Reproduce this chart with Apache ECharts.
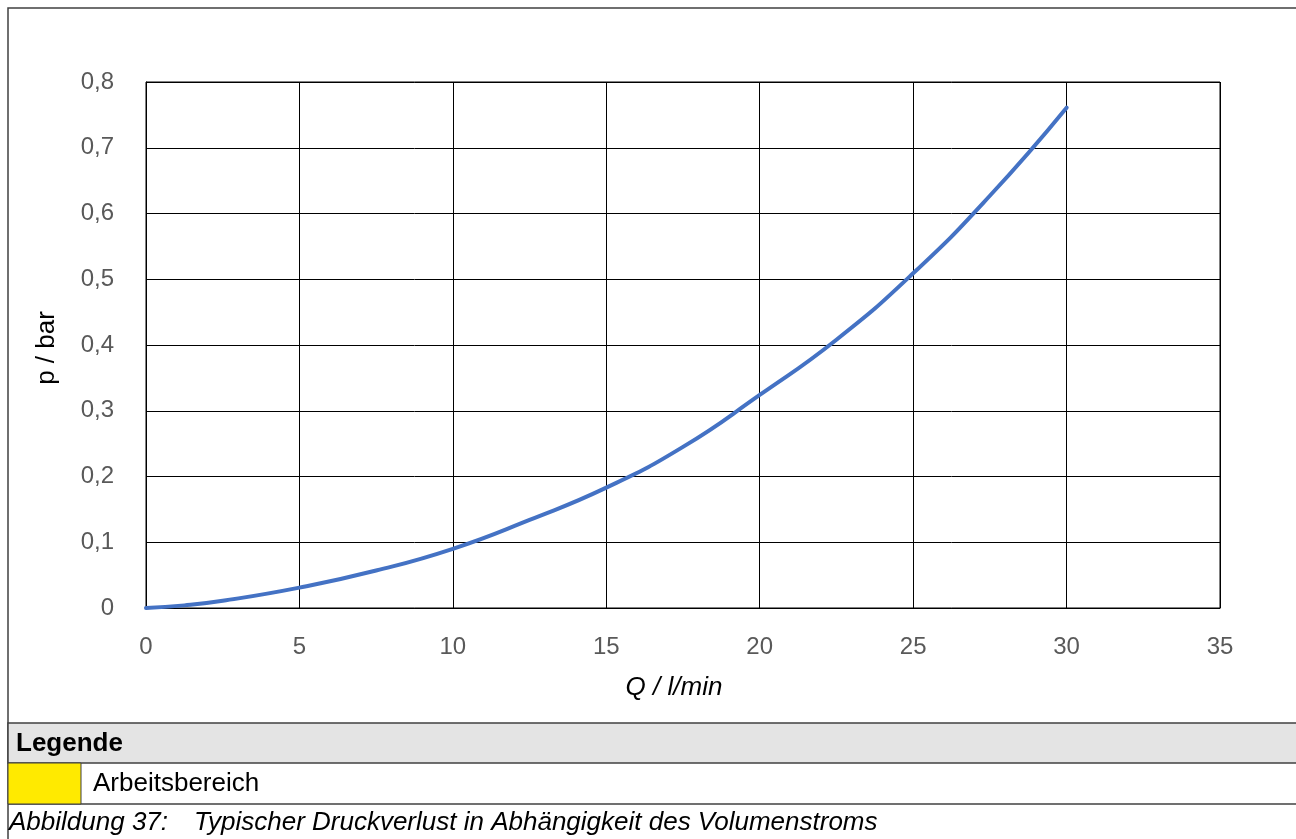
<!DOCTYPE html>
<html>
<head>
<meta charset="utf-8">
<script src="https://cdn.jsdelivr.net/npm/echarts@6/dist/echarts.min.js"></script>
<style>
html,body{margin:0;padding:0;background:#fff;}
#chart{width:1296px;height:839px;}
</style>
</head>
<body>
<div id="chart"></div>
<script>
const flowQ = [0, 1.25, 2.5, 5, 7.5, 10, 12.5, 15, 17.5, 20, 22.5, 25, 27.5, 30];
const pressure = [0, 0.004, 0.011, 0.031, 0.057, 0.090, 0.134, 0.183, 0.245, 0.324, 0.408, 0.509, 0.627, 0.761];
const xTicks = [0, 5, 10, 15, 20, 25, 30, 35];
const yTicks = [0, 0.1, 0.2, 0.3, 0.4, 0.5, 0.6, 0.7, 0.8];
const xTitle = 'Q / l/min';
const yTitle = 'p / bar';
const legendTitle = 'Legende';
const legendItem = 'Arbeitsbereich';
const caption = 'Abbildung 37:\u2003Typischer Druckverlust in Abhängigkeit des Volumenstroms';

const chart = echarts.init(document.getElementById('chart'));
const font = 'Liberation Sans, Arial, sans-serif';
chart.setOption({
  animation: false,
  textStyle: {fontFamily: font},
  grid: {left: 146, right: 76, top: 82, bottom: 231, show: true, borderColor: '#000', borderWidth: 1},
  xAxis: {
    type: 'value', min: xTicks[0], max: xTicks[xTicks.length - 1], interval: 5,
    axisLine: {show: true, lineStyle: {color: '#000', width: 1}},
    axisTick: {show: false},
    splitLine: {show: true, lineStyle: {color: '#000', width: 1}},
    axisLabel: {color: '#595959', fontSize: 24, margin: 27, fontFamily: font}
  },
  yAxis: {
    type: 'value', min: yTicks[0], max: yTicks[yTicks.length - 1], interval: 0.1,
    axisLine: {show: true, lineStyle: {color: '#000', width: 1}},
    axisTick: {show: false},
    splitLine: {show: true, lineStyle: {color: '#000', width: 1}},
    axisLabel: {color: '#595959', fontSize: 24, margin: 32, fontFamily: font,
      formatter: v => (Math.round(v * 10) / 10).toString().replace('.', ',')}
  },
  series: [{
    type: 'line', smooth: true, showSymbol: false,
    data: flowQ.map((q, i) => [q, pressure[i]]),
    lineStyle: {color: '#4472C4', width: 4, cap: 'round'}
  }],
  graphic: [
    {type: 'rect', shape: {x: 8, y: 8, width: 1300, height: 840}, style: {fill: 'none', stroke: '#404040', lineWidth: 1.5}, z: 10},
    {type: 'rect', shape: {x: 8, y: 723, width: 1300, height: 40}, style: {fill: '#e4e4e4', stroke: '#404040', lineWidth: 1.5}, z: 10},
    {type: 'rect', shape: {x: 8, y: 763, width: 73, height: 41}, style: {fill: '#ffea00', stroke: '#404040', lineWidth: 1}, z: 11},
    {type: 'line', shape: {x1: 8, y1: 804, x2: 1300, y2: 804}, style: {stroke: '#404040', lineWidth: 1.5}, z: 10},
    {type: 'text', x: 16, y: 744, style: {text: legendTitle, font: 'bold 26px ' + font, fill: '#000', verticalAlign: 'middle'}, z: 12},
    {type: 'text', x: 93, y: 784, style: {text: legendItem, font: '26px ' + font, fill: '#000', verticalAlign: 'middle'}, z: 12},
    {type: 'text', x: 9, y: 823, style: {text: caption, font: 'italic 26px ' + font, fill: '#000', verticalAlign: 'middle'}, z: 12},
    {type: 'text', x: 674, y: 688, style: {text: xTitle, font: 'italic 26px ' + font, fill: '#000', align: 'center', verticalAlign: 'middle'}, z: 12},
    {type: 'text', x: 47, y: 348, rotation: Math.PI / 2, style: {text: yTitle, font: '26px ' + font, fill: '#000', align: 'center', verticalAlign: 'middle'}, z: 12}
  ]
});
</script>
</body>
</html>
